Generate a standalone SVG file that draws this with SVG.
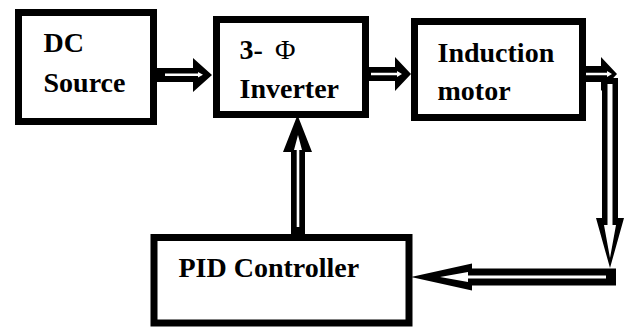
<svg xmlns="http://www.w3.org/2000/svg" width="625" height="327" viewBox="0 0 625 327">
<style>
.box{fill:#fff;stroke:#000;stroke-width:7}
.lbl{font-family:"Liberation Serif","Times New Roman",serif;font-weight:bold;font-size:28px;fill:#000}
.sym{font-family:"Liberation Serif","Times New Roman",serif;font-weight:normal;font-size:28px;fill:#000}
.ao{fill:#000}
.ai{fill:#fff}
</style>
<rect width="625" height="327" fill="#fff"/>
<g id="connectors">
  <g id="dc-to-inverter">
    <path class="ao" d="M157,68 H193 V58 L212,75 L193,92 V82 H157 Z"/>
    <path class="ai" d="M165,73.5 H198 V72 L203,74.7 L198,77.5 V76 H165 Z"/>
  </g>
  <g id="inverter-to-motor">
    <path class="ao" d="M369,67 H395 V57 L411,74 L395,91 V81 H369 Z"/>
    <path class="ai" d="M371,72.7 H397 V71 L402,74 L397,77 V75.3 H371 Z"/>
  </g>
  <g id="motor-out">
    <path class="ao" d="M586,66 H601 V57 L617,74 L601,91 V82 H586 Z"/>
    <path class="ai" d="M586,72.7 H607 V71 L612,74 L607,77 V75.3 H586 Z"/>
  </g>
  <g id="feedback-down">
    <path class="ao" d="M602,78 H618 V218 H624 L610,268 L596,218 H602 Z"/>
    <path class="ai" d="M607.5,84 H612.5 V225 H616 L610,258 L604,225 H607.5 Z"/>
  </g>
  <g id="feedback-to-pid">
    <path class="ao" d="M616,268.5 V285.5 H472 V290.5 L411,277 L472,263.5 V268.5 Z"/>
    <path class="ai" d="M606,275.5 V278.5 H468 V282 L440,277 L468,272 V275.5 Z"/>
  </g>
  <g id="pid-to-inverter">
    <path class="ao" d="M291,234 V152 H283 L297.5,115 L312,152 H305 V234 Z"/>
    <path class="ai" d="M296.7,227 V150 H294 L298,135 L302,150 H299.3 V227 Z"/>
  </g>
</g>
<g id="dc-source">
  <rect class="box" x="18.5" y="12.5" width="135" height="109"/>
  <text class="lbl" x="43.5" y="52">DC</text>
  <text class="lbl" x="43.5" y="92">Source</text>
</g>
<g id="inverter">
  <rect class="box" x="216.5" y="19.5" width="149" height="95"/>
  <text class="lbl" x="239.5" y="59">3-</text>
  <text class="sym" x="275" y="59">Φ</text>
  <text class="lbl" x="239.5" y="98">Inverter</text>
</g>
<g id="induction-motor">
  <rect class="box" x="414.5" y="21.5" width="168" height="96"/>
  <text class="lbl" x="437.5" y="62">Induction</text>
  <text class="lbl" x="437.5" y="100">motor</text>
</g>
<g id="pid-controller">
  <rect class="box" x="154" y="237.5" width="255" height="85.5"/>
  <text class="lbl" x="178.5" y="277">PID Controller</text>
</g>
</svg>
